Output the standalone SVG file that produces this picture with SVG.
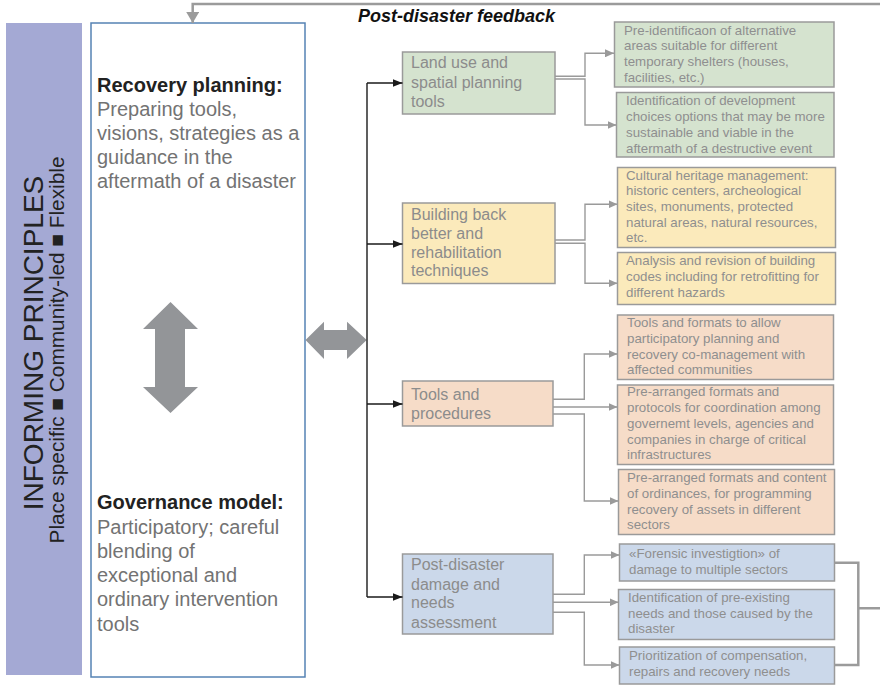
<svg xmlns="http://www.w3.org/2000/svg" width="880" height="685" viewBox="0 0 880 685">
<style>
text{font-family:"Liberation Sans",Arial,sans-serif}
.hd{font-size:20px;font-weight:bold;fill:#222}
.bd{font-size:20px;fill:#737373}
.mn{font-size:16px;fill:#8c8c8c}
.sm{font-size:13.3px;fill:#8f8f8f}
.box{stroke:#9a9a9a;stroke-width:1.5}
.g{fill:#d5e3cf}.y{fill:#fbeabb}.p{fill:#f6dcc8}.b{fill:#cbd8ea}
.cn{fill:none;stroke:#9a9a9a;stroke-width:1.4}
.bk{fill:none;stroke:#1a1a1a;stroke-width:1.4}
.fb{fill:none;stroke:#9b9b9b;stroke-width:2.5}
</style>
<defs>
<marker id="ag" markerUnits="userSpaceOnUse" markerWidth="9" markerHeight="8" refX="9" refY="4" orient="auto"><path d="M0,0L9,4L0,8z" fill="#9a9a9a"/></marker>
<marker id="ab" markerUnits="userSpaceOnUse" markerWidth="10" markerHeight="8" refX="10" refY="4" orient="auto"><path d="M0,0L10,4L0,8z" fill="#1a1a1a"/></marker>
<marker id="af" markerUnits="userSpaceOnUse" markerWidth="12" markerHeight="13" refX="11" refY="6.5" orient="auto"><path d="M0,0L11,6.5L0,13z" fill="#9b9b9b"/></marker>
</defs>

<g id="principles">
<rect x="6" y="23" width="76" height="652" fill="#a4a9d4"/>
<text transform="translate(43,343) rotate(-90)" text-anchor="middle" font-size="28" fill="#222">INFORMING PRINCIPLES</text>
<text transform="translate(64,350) rotate(-90)" text-anchor="middle" font-size="20.8" fill="#222">Place specific ■ Community-led ■ Flexible</text>
</g>

<g id="recovery-box">
<rect x="91" y="23" width="214" height="654" fill="#fff" stroke="#5583b4" stroke-width="1.5"/>
<text x="97" y="92" class="hd">Recovery planning:</text>
<text class="bd"><tspan x="97" y="115.5">Preparing tools,</tspan><tspan x="97" y="139.5">visions, strategies as a</tspan><tspan x="97" y="163.5">guidance in the</tspan><tspan x="97" y="187.5">aftermath of a disaster</tspan></text>
<text x="97" y="509" class="hd">Governance model:</text>
<text class="bd"><tspan x="97" y="533.5">Participatory; careful</tspan><tspan x="97" y="557.5">blending of</tspan><tspan x="97" y="582">exceptional and</tspan><tspan x="97" y="606">ordinary intervention</tspan><tspan x="97" y="630.5">tools</tspan></text>
<polygon points="170.5,302 198,329 185,329 185,387 198,387 170.5,413 143,387 155,387 155,329 143,329" fill="#939598"/>
</g>

<g id="dbl-arrow">
<polygon points="305.5,340 324,321.7 324,330 347,330 347,321.7 366.7,340 347,359 347,350 324,350 324,359" fill="#939598"/>
</g>

<g id="feedback-label">
<text x="456.5" y="22" text-anchor="middle" font-size="18" font-weight="bold" font-style="italic" fill="#111">Post-disaster feedback</text>
</g>

<g id="land-use">
<rect class="box g" x="402.5" y="52" width="152.5" height="62"/>
<text class="mn"><tspan x="411" y="68">Land use and</tspan><tspan x="411" y="87.5">spatial planning</tspan><tspan x="411" y="107">tools</tspan></text>
</g>
<g id="building-back">
<rect class="box y" x="402.5" y="203" width="152.5" height="80.5"/>
<text class="mn"><tspan x="411" y="219.5">Building back</tspan><tspan x="411" y="238.5">better and</tspan><tspan x="411" y="257.5">rehabilitation</tspan><tspan x="411" y="276">techniques</tspan></text>
</g>
<g id="tools-procedures">
<rect class="box p" x="402.5" y="381" width="150.5" height="45"/>
<text class="mn"><tspan x="411" y="400">Tools and</tspan><tspan x="411" y="418.5">procedures</tspan></text>
</g>
<g id="post-disaster">
<rect class="box b" x="402.5" y="554" width="150.5" height="80"/>
<text class="mn"><tspan x="411" y="570">Post-disaster</tspan><tspan x="411" y="589.5">damage and</tspan><tspan x="411" y="608">needs</tspan><tspan x="411" y="627.5">assessment</tspan></text>
</g>

<g id="g1">
<rect class="box g" x="614.5" y="22" width="219.5" height="65"/>
<text class="sm"><tspan x="624" y="34.5">Pre-identificaon of alternative</tspan><tspan x="624" y="50">areas suitable for different</tspan><tspan x="624" y="66">temporary shelters (houses,</tspan><tspan x="624" y="81.5">facilities, etc.)</tspan></text>
</g>
<g id="g2">
<rect class="box g" x="616.5" y="92.5" width="217.5" height="64.5"/>
<text class="sm"><tspan x="626" y="105">Identification of development</tspan><tspan x="626" y="120.5">choices options that may be more</tspan><tspan x="626" y="136.5">sustainable and viable in the</tspan><tspan x="626" y="152.5">aftermath of a destructive event</tspan></text>
</g>
<g id="y1">
<rect class="box y" x="617.5" y="167.5" width="218" height="80"/>
<text class="sm"><tspan x="626" y="179.5">Cultural heritage management:</tspan><tspan x="626" y="195">historic centers, archeological</tspan><tspan x="626" y="211">sites, monuments, protected</tspan><tspan x="626" y="226.5">natural areas, natural resources,</tspan><tspan x="626" y="242">etc.</tspan></text>
</g>
<g id="y2">
<rect class="box y" x="617.5" y="252.5" width="218" height="52"/>
<text class="sm"><tspan x="626" y="265">Analysis and revision of building</tspan><tspan x="626" y="281">codes including for retrofitting for</tspan><tspan x="626" y="296.5">different hazards</tspan></text>
</g>
<g id="p1">
<rect class="box p" x="617.5" y="315" width="216" height="64.5"/>
<text class="sm"><tspan x="627" y="327">Tools and formats to allow</tspan><tspan x="627" y="342.5">participatory planning and</tspan><tspan x="627" y="358.5">recovery co-management with</tspan><tspan x="627" y="374">affected communities</tspan></text>
</g>
<g id="p2">
<rect class="box p" x="617.5" y="385" width="216" height="79.5"/>
<text class="sm"><tspan x="627" y="396">Pre-arranged formats and</tspan><tspan x="627" y="412">protocols for coordination among</tspan><tspan x="627" y="427.5">governemt levels, agencies and</tspan><tspan x="627" y="443.5">companies in charge of critical</tspan><tspan x="627" y="459">infrastructures</tspan></text>
</g>
<g id="p3">
<rect class="box p" x="618.5" y="469.5" width="216" height="65"/>
<text class="sm"><tspan x="627" y="482">Pre-arranged formats and content</tspan><tspan x="627" y="498">of ordinances, for programming</tspan><tspan x="627" y="513.5">recovery of assets in different</tspan><tspan x="627" y="528.5">sectors</tspan></text>
</g>
<g id="b1">
<rect class="box b" x="619.5" y="544" width="215" height="37"/>
<text class="sm"><tspan x="629" y="557.5">«Forensic investigtion» of</tspan><tspan x="629" y="573.5">damage to multiple sectors</tspan></text>
</g>
<g id="b2">
<rect class="box b" x="618.5" y="589.5" width="216" height="50"/>
<text class="sm"><tspan x="628" y="602">Identification of pre-existing</tspan><tspan x="628" y="617.5">needs and those caused by the</tspan><tspan x="628" y="633">disaster</tspan></text>
</g>
<g id="b3">
<rect class="box b" x="619.5" y="647" width="215" height="37"/>
<text class="sm"><tspan x="629" y="660">Prioritization of compensation,</tspan><tspan x="629" y="676">repairs and recovery needs</tspan></text>
</g>

<g id="connectors">
<path class="fb" d="M880,4H192.7V23" marker-end="url(#af)"/>
<path class="fb" d="M834.5,562.7H858.3V665H834.5M858.3,608.3H880"/>
<path class="bk" d="M367,83V597"/>
<path class="bk" d="M367,83H402.5" marker-end="url(#ab)"/>
<path class="bk" d="M367,244H402.5" marker-end="url(#ab)"/>
<path class="bk" d="M367,404H402.5" marker-end="url(#ab)"/>
<path class="bk" d="M367,597H402.5" marker-end="url(#ab)"/>
<path class="cn" d="M555,76.3H585V53.3H614" marker-end="url(#ag)"/>
<path class="cn" d="M555,79H585V125H616.5" marker-end="url(#ag)"/>
<path class="cn" d="M555,240H585V204.3H617.5" marker-end="url(#ag)"/>
<path class="cn" d="M555,243.3H585V283.3H617.5" marker-end="url(#ag)"/>
<path class="cn" d="M553,399.3H584.3V354H617.5" marker-end="url(#ag)"/>
<path class="cn" d="M553,407H617.5" marker-end="url(#ag)"/>
<path class="cn" d="M553,414H584.3V501H618.5" marker-end="url(#ag)"/>
<path class="cn" d="M553,594.3H584.3V555H619.5" marker-end="url(#ag)"/>
<path class="cn" d="M553,602.3H618.5" marker-end="url(#ag)"/>
<path class="cn" d="M553,612.3H584.3V665H619.5" marker-end="url(#ag)"/>
</g>
</svg>
